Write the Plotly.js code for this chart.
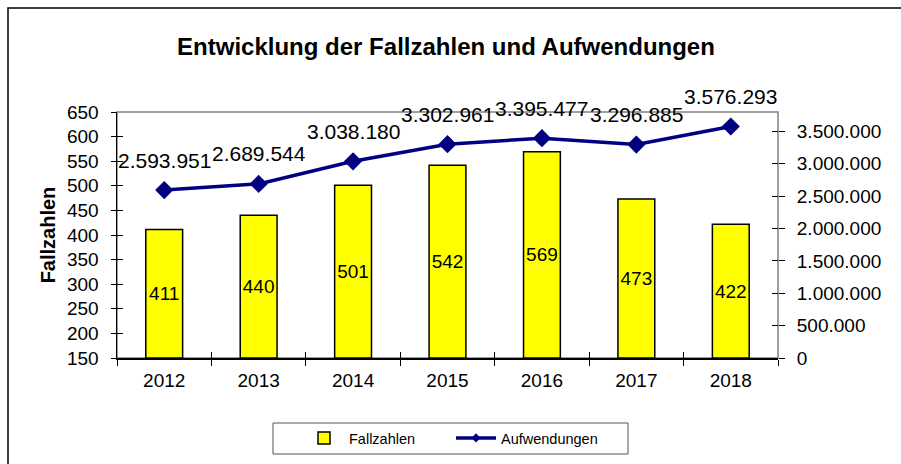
<!DOCTYPE html>
<html>
<head>
<meta charset="utf-8">
<script src="https://cdn.plot.ly/plotly-3.0.1.min.js"></script>
<style>
html,body{margin:0;padding:0;background:#fff;}
#chart{width:901px;height:464px;}
</style>
</head>
<body>
<div id="chart"></div>
<script>
const years = ['2012','2013','2014','2015','2016','2017','2018'];
const fallzahlen = [411, 440, 501, 542, 569, 473, 422];
const aufwendungen = [2593951, 2689544, 3038180, 3302961, 3395477, 3296885, 3576293];
const yMin = 150, yMax = 650;
const y2Max = 3800000;

const FONT = 'Liberation Sans, Arial, sans-serif';
function de(v){ return String(v).replace(/\B(?=(\d{3})+(?!\d))/g, '.'); }

const bars = {
  type: 'bar', name: 'Fallzahlen', x: years,
  base: yMin, y: fallzahlen.map(v => v - yMin),
  text: fallzahlen.map(String), textposition: 'inside', insidetextanchor: 'middle',
  textangle: 0, constraintext: 'none',
  textfont: {family: FONT, size: 19, color: '#000'},
  marker: {color: '#FFFF00', line: {color: '#000', width: 1.5}},
  width: 0.39, yaxis: 'y', hoverinfo: 'skip'
};
const line = {
  type: 'scatter', mode: 'lines+markers', name: 'Aufwendungen', x: years, y: aufwendungen,
  yaxis: 'y2', line: {color: '#000080', width: 3.5}, showlegend: false,
  marker: {symbol: 'diamond', size: 14, color: '#000080'}, hoverinfo: 'skip'
};
const lineLegend = {
  type: 'scatter', mode: 'lines+markers', name: 'Aufwendungen', x: [null], y: [null],
  yaxis: 'y2', line: {color: '#000080', width: 3.5},
  marker: {symbol: 'diamond', size: 7, color: '#000080'}, hoverinfo: 'skip'
};
// empty helpers so the inner half of the crossing tick marks is drawn
const tickHelperL = {type: 'scatter', x: [null], y: [null], xaxis: 'x2', yaxis: 'y3', showlegend: false, hoverinfo: 'skip'};
const tickHelperR = {type: 'scatter', x: [null], y: [null], xaxis: 'x2', yaxis: 'y4', showlegend: false, hoverinfo: 'skip'};

const annotations = aufwendungen.map((v, i) => ({
  x: i, y: v, xref: 'x', yref: 'y2', yshift: 30, showarrow: false,
  text: de(v), font: {family: FONT, size: 21, color: '#000'}
}));

const tickFont = {family: FONT, size: 19, color: '#000'};

const layout = {
  width: 901, height: 464,
  margin: {l: 117, r: 123, t: 112, b: 106},
  paper_bgcolor: '#fff', plot_bgcolor: '#fff',
  separators: ',.',
  font: {family: FONT, size: 19, color: '#000'},
  title: {text: '<b>Entwicklung der Fallzahlen und Aufwendungen</b>', font: {family: FONT, size: 24, color: '#000'},
          x: 446/901, xref: 'container', xanchor: 'center', y: 1 - 47/464, yref: 'container', yanchor: 'middle'},
  xaxis: {type: 'category', range: [-0.5, years.length - 0.5], autorange: false,
          showline: true, linecolor: '#000', linewidth: 1.5,
          ticks: 'outside', ticklen: 6, tickcolor: '#000', tickwidth: 1, tickson: 'boundaries',
          tickangle: 0, ticklabelstandoff: 5,
          showgrid: false, zeroline: false, tickfont: tickFont},
  xaxis2: {overlaying: 'x', anchor: 'y', side: 'bottom', type: 'linear', range: [-0.5, years.length - 0.5],
           tick0: -0.5, dtick: 1, ticks: 'inside', ticklen: 6, tickcolor: '#000', tickwidth: 1,
           showticklabels: false, showgrid: false, zeroline: false, showline: false},
  yaxis: {range: [yMin, yMax], dtick: 50, tick0: 150, showline: true, linecolor: '#000', linewidth: 1.5,
          ticks: 'outside', ticklen: 5, tickcolor: '#000', tickwidth: 1, ticklabelstandoff: 8,
          showgrid: false, zeroline: false, tickfont: tickFont,
          title: {text: '<b>Fallzahlen</b>', font: {family: FONT, size: 20}, standoff: 6}},
  yaxis3: {overlaying: 'y', anchor: 'x', side: 'left', range: [yMin, yMax], dtick: 50, tick0: 150,
           ticks: 'inside', ticklen: 6, tickcolor: '#000', tickwidth: 1, showticklabels: false,
           showgrid: false, zeroline: false, showline: false},
  yaxis2: {overlaying: 'y', side: 'right', range: [0, y2Max], dtick: 500000, tick0: 0,
           tickformat: ',d', showline: false, ticks: 'outside', ticklen: 6, tickcolor: '#000',
           ticklabelstandoff: 8,
           showgrid: false, zeroline: false, tickfont: tickFont},
  yaxis4: {overlaying: 'y', anchor: 'x', side: 'right', range: [0, y2Max], dtick: 500000, tick0: 0,
           ticks: 'inside', ticklen: 6, tickcolor: '#000', tickwidth: 1, showticklabels: false,
           showgrid: false, zeroline: false, showline: false},
  barmode: 'overlay',
  showlegend: true,
  legend: {orientation: 'h', xref: 'container', yref: 'container', x: 451/901, xanchor: 'center',
           y: 1 - 438/464, yanchor: 'middle', borderwidth: 0,
           font: {family: FONT, size: 14.5}, entrywidth: 97, itemwidth: 40, bgcolor: 'rgba(0,0,0,0)'},
  shapes: [
    {type: 'rect', xref: 'paper', yref: 'paper', x0: 0, x1: 1, y0: 0, y1: 1,
     line: {color: '#808080', width: 1.5}, layer: 'below'},
    {type: 'rect', xref: 'paper', yref: 'paper', x0: (8-117)/661, x1: (905-117)/661,
     y0: (358-475)/246, y1: (358-8)/246, line: {color: '#000', width: 1.5}},
    {type: 'rect', xref: 'paper', yref: 'paper', x0: (273-117)/661, x1: (628-117)/661,
     y0: (358-454)/246, y1: (358-423)/246, line: {color: '#555', width: 1}}
  ],
  annotations: annotations
};

Plotly.newPlot('chart', [bars, line, lineLegend, tickHelperL, tickHelperR], layout, {staticPlot: true, displayModeBar: false});
</script>
</body>
</html>
